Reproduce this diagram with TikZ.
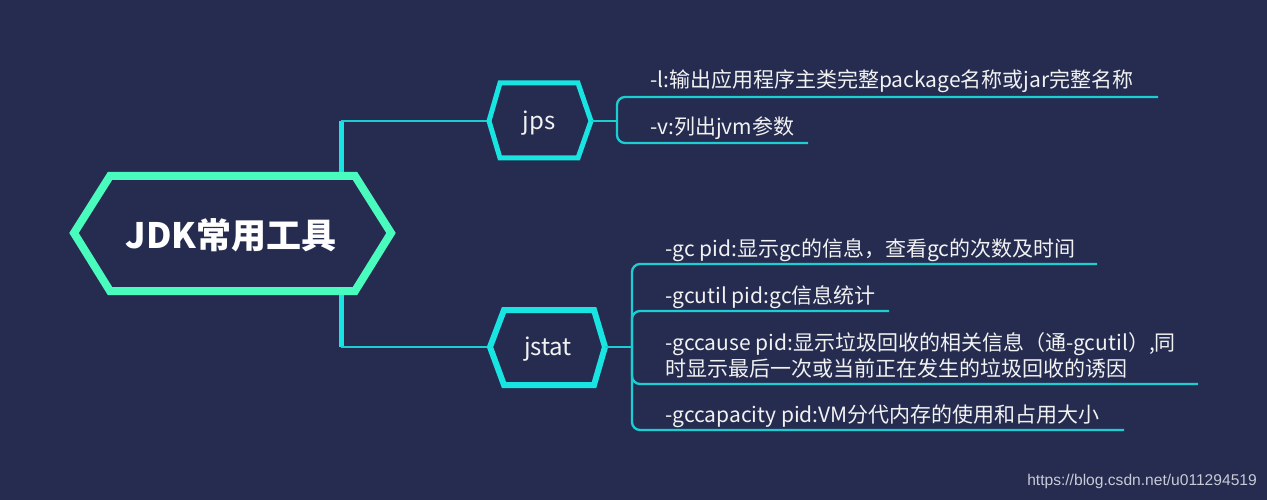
\documentclass[tikz,border=0pt]{standalone}
\usepackage{fontspec}
\setmainfont{Noto Sans CJK SC}
\newfontfamily\wmfont{Liberation Sans}
\definecolor{bg}{HTML}{252C50}
\definecolor{mint}{HTML}{4AFBBE}
\definecolor{hexcyan}{HTML}{18E4E2}
\definecolor{linecyan}{HTML}{1CCDD2}
\definecolor{txt}{HTML}{F2F2F2}
\definecolor{wmgray}{HTML}{C9CAD6}
\tikzset{
  conn/.style={draw=linecyan, line width=2.5pt},
  brk/.style={draw=linecyan, line width=2.3pt, rounded corners=8pt},
  item/.style={text=txt, font=\fontsize{21}{26}\selectfont, anchor=base west, inner sep=0pt},
  sub/.style={text=txt, font=\fontsize{24}{28}\selectfont, inner sep=0pt},
}
\begin{document}
\begin{tikzpicture}[x=1pt,y=-1pt]
\fill[bg] (0,0) rectangle (1267,500);
\useasboundingbox (0,0) rectangle (1267,500);

% junction coordinates
\coordinate (vtop) at (341,121);
\coordinate (vbot) at (341,347);
\coordinate (jpsL) at (489,121);
\coordinate (jpsR) at (591,121);
\coordinate (jstL) at (490,347);
\coordinate (jstR) at (605,347);
\coordinate (jpsJ) at (617,121);
\coordinate (jstJ) at (632,347);

% main vertical spine
\draw[draw=hexcyan, line width=5pt] (vtop) -- (vbot);
\draw[conn] (vtop) -- (jpsL);
\draw[conn] (vbot) -- (jstL);

% main hexagon
\filldraw[fill=bg, draw=mint, line width=8pt, line join=miter]
  (74,233) -- (110,176) -- (355,176) -- (391,233) -- (355,291) -- (110,291) -- cycle;
\node[text=white, font=\fontsize{35}{40}\selectfont\bfseries, inner sep=0pt] (jdk) at (231,235) {JDK常用工具};

% jps hexagon
\filldraw[fill=bg, draw=hexcyan, line width=5pt]
  (jpsL) -- (500,83) -- (578,83) -- (jpsR) -- (578,158) -- (500,158) -- cycle;
\node[sub] (jps) at (539,123) {jps};

% jstat hexagon
\filldraw[fill=bg, draw=hexcyan, line width=6pt]
  (jstL) -- (504,310) -- (594,310) -- (jstR) -- (594,385) -- (504,385) -- cycle;
\node[sub] (jstat) at (548,349) {jstat};

% jps branches
\draw[conn] (jpsR) -- (jpsJ);
\coordinate (l1) at (1158,97);
\coordinate (l2) at (808,143);
\draw[brk] (jpsJ) |- (l1);
\draw[brk] (jpsJ) |- (l2);
\node[item] (tl) at (650,88) {-l:输出应用程序主类完整package名称或jar完整名称};
\node[item] (tv) at (650,135) {-v:列出jvm参数};

% jstat branches
\draw[conn] (jstR) -- (jstJ);
\coordinate (g1) at (1097,264);
\coordinate (g2) at (889,311);
\coordinate (g3) at (1198,384);
\coordinate (g4) at (1124,430);
\draw[brk] (jstJ) |- (g1);
\draw[brk] (jstJ) |- (g2);
\draw[brk] (jstJ) |- (g3);
\draw[brk] (jstJ) |- (g4);
\node[item] (tgc) at (665,256) {-gc pid:显示gc的信息，查看gc的次数及时间};
\node[item] (tgu) at (665,303) {-gcutil pid:gc信息统计};
\node[item] (tgca) at (665,350) {-gccause pid:显示垃圾回收的相关信息（通-gcutil）,同};
\node[item] (tgcb) at (665,376) {时显示最后一次或当前正在发生的垃圾回收的诱因};
\node[item] (tgp) at (665,422) {-gccapacity pid:VM分代内存的使用和占用大小};

% watermark
\node[text=wmgray, font=\wmfont\fontsize{15.6}{18}\selectfont, anchor=east, inner sep=0pt] (wm) at (1257,481) {https://blog.csdn.net/u011294519};
\end{tikzpicture}
\end{document}
